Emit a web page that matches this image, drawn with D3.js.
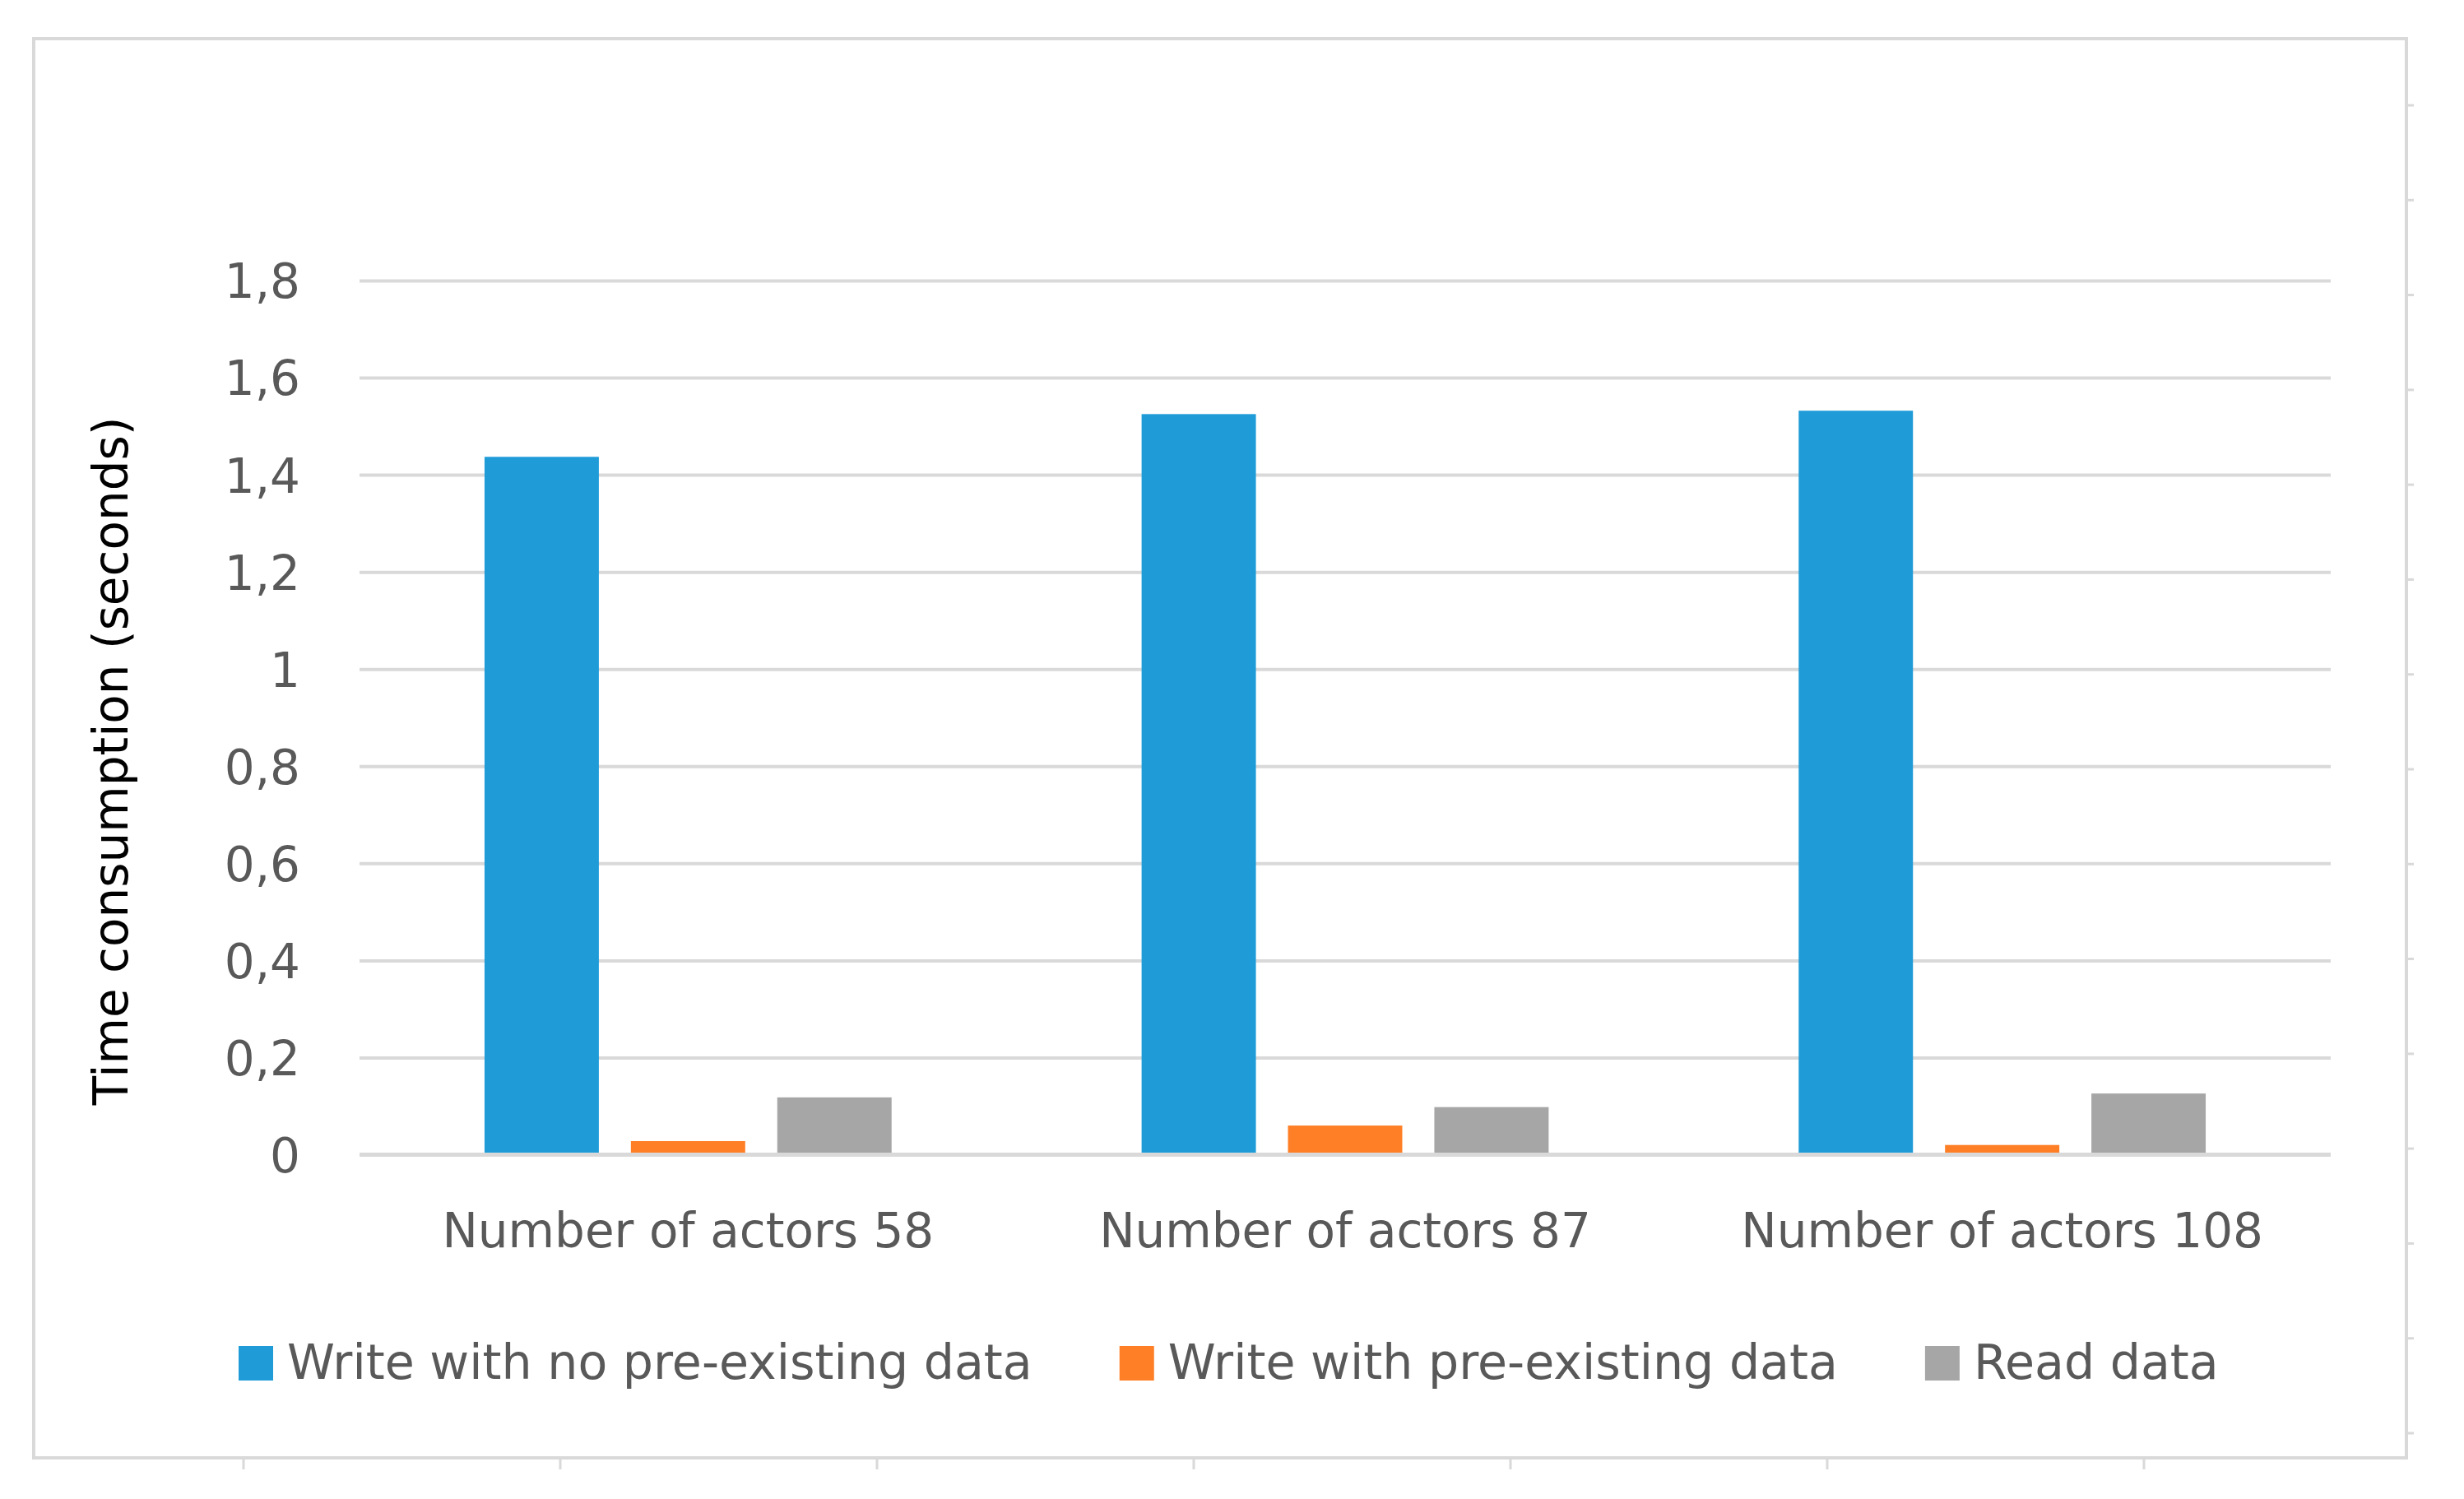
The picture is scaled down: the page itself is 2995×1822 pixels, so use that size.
<!DOCTYPE html>
<html>
<head>
<meta charset="utf-8">
<script src="https://cdn.jsdelivr.net/npm/d3@7"></script>
<style>
  html, body { margin: 0; padding: 0; background: #ffffff; }
  svg { display: block; }
  text { font-family: "DejaVu Sans", sans-serif; }
</style>
</head>
<body>
<script>
// ---- data ----
const categories = ["Number of actors 58", "Number of actors 87", "Number of actors 108"];
const seriesNames = ["Write with no pre-existing data", "Write with pre-existing data", "Read data"];
const writeNoPreexisting = [1.437, 1.525, 1.532];
const writeWithPreexisting = [0.028, 0.06, 0.02];
const readData = [0.118, 0.098, 0.126];
const yTickValues = [0, 0.2, 0.4, 0.6, 0.8, 1, 1.2, 1.4, 1.6, 1.8];
const yTickLabels = ["0", "0,2", "0,4", "0,6", "0,8", "1", "1,2", "1,4", "1,6", "1,8"];
const yTitle = "Time consumption (seconds)";
const colors = ["#1f9cd8", "#ff7f27", "#a6a6a6"];

const seriesValues = [writeNoPreexisting, writeWithPreexisting, readData];
const rows = categories.map((c, i) => ({
  category: c,
  values: seriesNames.map((s, j) => ({ series: s, value: seriesValues[j][i], color: colors[j] }))
}));

// ---- layout ----
const W = 2995, H = 1822;
const plot = { left: 437, right: 2833, top: 341, bottom: 1403.5 };
const frame = { left: 41, top: 47, right: 2925, bottom: 1772 };
const fontSize = 58;
const textGray = "#595959";
const gridColor = "#d9d9d9";

const svg = d3.select("body").append("svg").attr("width", W).attr("height", H);

// frame
svg.append("rect")
  .attr("x", frame.left).attr("y", frame.top)
  .attr("width", frame.right - frame.left).attr("height", frame.bottom - frame.top)
  .attr("fill", "#ffffff").attr("stroke", gridColor).attr("stroke-width", 4);

// decorative ticks outside frame (right and bottom)
const rightTicks = d3.scaleLinear().domain([0, 14]).range([128, 1742]);
svg.append("g").selectAll("line").data(d3.range(15)).join("line")
  .attr("x1", frame.right).attr("x2", frame.right + 9)
  .attr("y1", d => rightTicks(d)).attr("y2", d => rightTicks(d))
  .attr("stroke", gridColor).attr("stroke-width", 3);
const bottomTicks = d3.scaleLinear().domain([0, 6]).range([296, 2606]);
svg.append("g").selectAll("line").data(d3.range(7)).join("line")
  .attr("x1", d => bottomTicks(d)).attr("x2", d => bottomTicks(d))
  .attr("y1", frame.bottom).attr("y2", frame.bottom + 14)
  .attr("stroke", gridColor).attr("stroke-width", 3);

// scales
const y = d3.scaleLinear().domain([0, 1.8]).range([plot.bottom, plot.top]);
const x0 = d3.scaleBand().domain(categories).range([plot.left, plot.right]).padding(0);
const x1 = d3.scaleBand().domain(seriesNames).range([0, x0.bandwidth()])
  .paddingInner(0.219).paddingOuter(0.854);

// gridlines
const yAxis = d3.axisLeft(y).tickValues(yTickValues)
  .tickSize(-(plot.right - plot.left))
  .tickFormat((d, i) => yTickLabels[i]);
const gAxis = svg.append("g").attr("transform", `translate(${plot.left},0)`).call(yAxis);
gAxis.select(".domain").remove();
gAxis.selectAll(".tick line").attr("stroke", gridColor).attr("stroke-width", 4);
gAxis.selectAll(".tick text")
  .attr("x", -72).attr("dy", "0.36em")
  .attr("fill", textGray).attr("font-size", fontSize)
  .attr("font-family", "DejaVu Sans").attr("text-anchor", "end");

// bars
const groups = svg.append("g").selectAll("g").data(rows).join("g")
  .attr("transform", d => `translate(${x0(d.category)},0)`);
groups.selectAll("rect").data(d => d.values).join("rect")
  .attr("x", d => x1(d.series))
  .attr("width", x1.bandwidth())
  .attr("y", d => y(d.value))
  .attr("height", d => y(0) - y(d.value))
  .attr("fill", d => d.color);

// zero line on top
svg.append("line")
  .attr("x1", plot.left).attr("x2", plot.right)
  .attr("y1", y(0)).attr("y2", y(0))
  .attr("stroke", gridColor).attr("stroke-width", 5);

// category labels
svg.append("g").selectAll("text").data(categories).join("text")
  .attr("x", d => x0(d) + x0.bandwidth() / 2)
  .attr("y", 1516)
  .attr("text-anchor", "middle")
  .attr("fill", textGray).attr("font-size", fontSize)
  .text(d => d);

// y title
svg.append("text")
  .attr("transform", "translate(155,925) rotate(-90)")
  .attr("text-anchor", "middle")
  .attr("fill", "#000000").attr("font-size", fontSize)
  .text(yTitle);

// legend
const legendFont = 58.6;
const legend = svg.append("g");
const items = legend.selectAll("g").data(seriesNames).join("g");
items.append("rect").attr("x", 0).attr("y", 1636).attr("width", 42).attr("height", 42)
  .attr("fill", (d, i) => colors[i]);
items.append("text").attr("x", 59).attr("y", 1676)
  .attr("fill", textGray).attr("font-size", legendFont).text(d => d);
const widths = [];
items.each(function () { widths.push(59 + this.querySelector("text").getComputedTextLength()); });
const gap = 106;
let cx = 290;
items.attr("transform", (d, i) => {
  const t = `translate(${cx},0)`;
  cx += widths[i] + gap;
  return t;
});
</script>
</body>
</html>
